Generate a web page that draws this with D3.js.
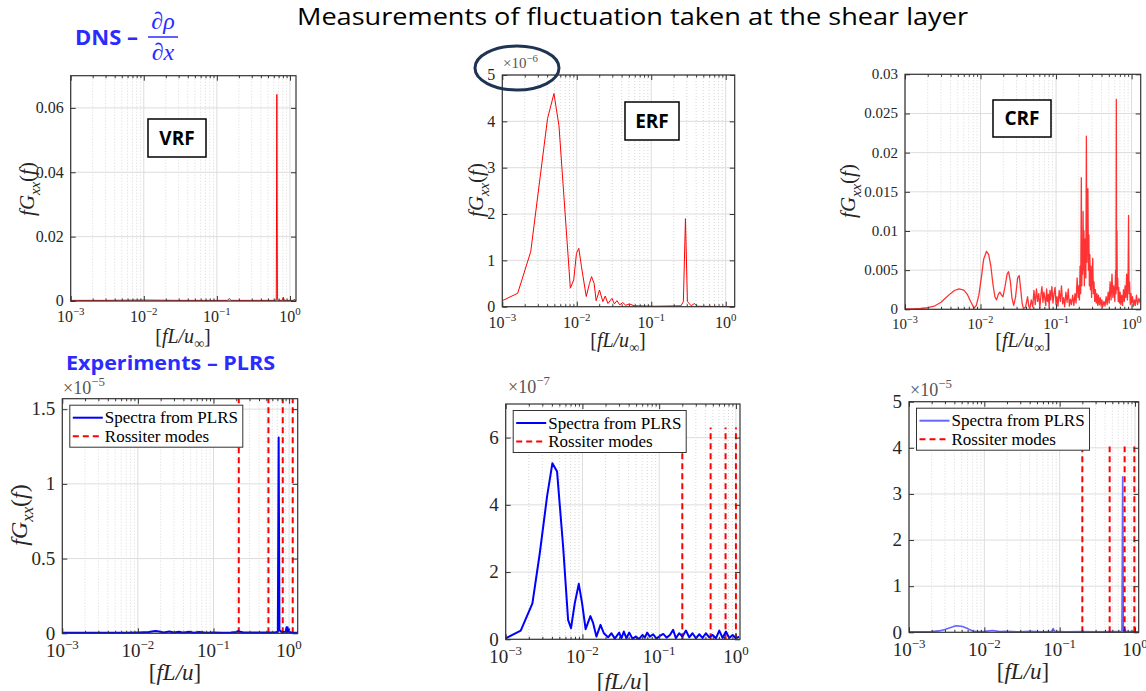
<!DOCTYPE html>
<html>
<head>
<meta charset="utf-8">
<script src="https://cdn.jsdelivr.net/npm/d3@7"></script>
<style>
  body { margin: 0; background: #fff; }
  svg { display: block; }
</style>
</head>
<body>
<svg id="chart" width="1146" height="691"></svg>
<script>
///////////////////////////////////////////////////////////////////////////////
//// Data /////////////////////////////////////////////////////////////////////
///////////////////////////////////////////////////////////////////////////////
// Log axis decades, shared by all six panels
const decadeTicks = [1e-3, 1e-2, 1e-1, 1];

// DNS spectra  [fL/u, fGxx]
const vrfSpectrum = [
  [0.001, 0.0002], [0.003, 0.0002], [0.01, 0.0003], [0.03, 0.0002], [0.1, 0.0002],
  [0.14, 0.0002], [0.148, 0.0008], [0.156, 0.0002], [0.3, 0.0002], [0.6, 0.0002],
  [0.65, 0.0003], [0.662, 0.0642], [0.674, 0.0004], [0.7, 0.0002], [0.78, 0.0002],
  [0.81, 0.0012], [0.84, 0.0002], [1.0, 0.0002], [1.12, 0.0002], [1.15, 0.0006],
  [1.18, 0.0002], [1.21, 0.0002]
];
const vrfYTicks = [0, 0.02, 0.04, 0.06];

// x 1e-6
const erfSpectrum = [
  [0.001, 0.13], [0.00161, 0.29], [0.00241, 1.19], [0.00405, 4.06], [0.00494, 4.6],
  [0.00577, 3.9], [0.0082, 0.4], [0.0091, 0.58], [0.0099, 1.15], [0.01065, 1.26],
  [0.01157, 0.86], [0.0134, 0.22], [0.0148, 0.5], [0.0158, 0.65], [0.0171, 0.5],
  [0.0182, 0.13], [0.0202, 0.36], [0.0224, 0.11], [0.0241, 0.23], [0.0262, 0.07],
  [0.0297, 0.18], [0.032, 0.06], [0.0347, 0.13], [0.0377, 0.04], [0.0414, 0.09],
  [0.0455, 0.03], [0.0509, 0.06], [0.0589, 0.02], [0.11, 0.01], [0.251, 0.02],
  [0.27, 0.11], [0.288, 1.9], [0.306, 0.11], [0.344, 0.02], [0.38, 0.07],
  [0.41, 0.01], [1.32, 0.0]
];
const erfYTicks = [0, 1, 2, 3, 4, 5];

const crfSpectrum = [
  [0.001, 0.00004], [0.0013, 0.00006], [0.0016, 0.0001], [0.002, 0.0002], [0.0025, 0.00045],
  [0.003, 0.0009], [0.0035, 0.0015], [0.004, 0.002], [0.0045, 0.0024], [0.0052, 0.0026],
  [0.006, 0.00245], [0.0067, 0.0019], [0.0074, 0.001], [0.0082, 0.00015], [0.0088, 0.0005],
  [0.0095, 0.0018], [0.0103, 0.0042], [0.011, 0.0064], [0.012, 0.0074], [0.0128, 0.007],
  [0.0137, 0.0055], [0.0146, 0.0032], [0.0155, 0.0016], [0.0163, 0.0012], [0.0172, 0.0019],
  [0.018, 0.0022], [0.019, 0.0018], [0.0198, 0.0016], [0.021, 0.0028], [0.0225, 0.0045],
  [0.0235, 0.0048], [0.0248, 0.0036], [0.026, 0.0015], [0.0275, 0.0005], [0.029, 0.0015],
  [0.031, 0.004], [0.0325, 0.0043], [0.034, 0.0026], [0.0355, 0.0008], [0.037, 0.0001],
  [0.0395, 0.0003], [0.042, 0.0016], [0.0435, 0.0004], [0.045, 0.0001],
  [0.047, 0.0012], [0.049, 0.0003], [0.051, 0.0024], [0.053, 0.0006], [0.055, 0.0026],
  [0.057, 0.001], [0.059, 0.002], [0.061, 0.0002], [0.063, 0.0018], [0.065, 0.0029],
  [0.067, 0.0009], [0.069, 0.0022], [0.071, 0.0014], [0.073, 0.0005], [0.075, 0.0026],
  [0.077, 0.001], [0.079, 0.0019], [0.081, 0.0003], [0.083, 0.0024], [0.085, 0.0012],
  [0.088, 0.0029], [0.091, 0.0008], [0.094, 0.002], [0.097, 0.0028], [0.1, 0.0006],
  [0.103, 0.0016], [0.106, 0.0004], [0.11, 0.0024], [0.114, 0.001], [0.118, 0.003],
  [0.122, 0.0007], [0.126, 0.0015], [0.13, 0.0003], [0.135, 0.0022], [0.14, 0.0009],
  [0.145, 0.0026], [0.15, 0.0004], [0.155, 0.0013], [0.16, 0.0006], [0.166, 0.0018],
  [0.172, 0.0005], [0.178, 0.002], [0.184, 0.0008], [0.19, 0.004], [0.196, 0.0015],
  [0.2, 0.003], [0.204, 0.0012], [0.208, 0.0055], [0.212, 0.002], [0.216, 0.0168],
  [0.219, 0.003], [0.222, 0.008], [0.225, 0.0045], [0.228, 0.0125], [0.231, 0.005],
  [0.234, 0.01], [0.237, 0.003], [0.24, 0.0075], [0.244, 0.009], [0.248, 0.004],
  [0.252, 0.0221], [0.256, 0.006], [0.26, 0.013], [0.264, 0.0154], [0.268, 0.005],
  [0.272, 0.0095], [0.276, 0.003], [0.28, 0.007], [0.285, 0.0025], [0.29, 0.0055],
  [0.295, 0.0015], [0.3, 0.004], [0.306, 0.0065], [0.312, 0.002], [0.318, 0.0035],
  [0.325, 0.001], [0.332, 0.0025], [0.34, 0.0008], [0.348, 0.002], [0.356, 0.0005],
  [0.365, 0.0018], [0.375, 0.0006], [0.385, 0.0015], [0.395, 0.0004], [0.405, 0.0012],
  [0.415, 0.0003], [0.43, 0.001], [0.445, 0.0004], [0.46, 0.0016], [0.475, 0.0006],
  [0.49, 0.0022], [0.505, 0.0008], [0.52, 0.0035], [0.535, 0.0012], [0.55, 0.0045],
  [0.565, 0.0015], [0.58, 0.003], [0.6, 0.001], [0.615, 0.005], [0.622, 0.002],
  [0.628, 0.0268], [0.634, 0.003], [0.64, 0.01], [0.647, 0.0025], [0.655, 0.004],
  [0.665, 0.001], [0.675, 0.0028], [0.69, 0.0008], [0.705, 0.0022], [0.72, 0.0006],
  [0.74, 0.0018], [0.76, 0.0005], [0.78, 0.0025], [0.8, 0.001], [0.82, 0.003],
  [0.84, 0.0015], [0.86, 0.0045], [0.88, 0.0012], [0.9, 0.005], [0.912, 0.012],
  [0.925, 0.002], [0.94, 0.0035], [0.96, 0.0006], [0.98, 0.002], [1.0, 0.0008],
  [1.03, 0.0016], [1.06, 0.0004], [1.09, 0.0012], [1.12, 0.0005], [1.16, 0.0018],
  [1.2, 0.0006], [1.25, 0.0014], [1.3, 0.0008]
];
const crfYTicks = [0, 0.005, 0.01, 0.015, 0.02, 0.025, 0.03];

// Experiment (PLRS) spectra
// x 1e-5
const expVrfSpectrum = [
  [0.001, 0.003], [0.002, 0.003], [0.004, 0.004], [0.007, 0.003], [0.01, 0.006],
  [0.014, 0.008], [0.017, 0.016], [0.019, 0.012], [0.022, 0.006], [0.026, 0.012],
  [0.03, 0.005], [0.035, 0.01], [0.04, 0.004], [0.047, 0.011], [0.055, 0.004],
  [0.065, 0.009], [0.08, 0.004], [0.1, 0.006], [0.13, 0.004], [0.17, 0.005],
  [0.2, 0.008], [0.21, 0.014], [0.25, 0.005], [0.35, 0.006], [0.5, 0.005],
  [0.65, 0.006], [0.71, 0.01], [0.728, 1.31], [0.745, 0.02], [0.8, 0.008],
  [0.9, 0.01], [0.925, 0.04], [0.94, 0.008], [0.955, 0.04], [0.98, 0.01],
  [1.1, 0.004], [1.3, 0.003]
];
const expVrfYTicks = [0, 0.5, 1, 1.5];
const expVrfModes = [0.216, 0.533, 0.825, 1.117];

// x 1e-7
const expErfSpectrum = [
  [0.001, 0.03], [0.00157, 0.26], [0.00223, 1.07], [0.00278, 2.56], [0.00346, 4.25],
  [0.00406, 5.24], [0.00467, 4.99], [0.0056, 2.76], [0.0065, 0.58], [0.0071, 0.33],
  [0.00794, 1.07], [0.00896, 1.65], [0.0099, 1.07], [0.011, 0.3], [0.0127, 0.69],
  [0.0138, 0.48], [0.0152, 0.08], [0.0172, 0.43], [0.019, 0.18], [0.0216, 0.06],
  [0.0239, 0.18], [0.0264, 0.02], [0.0301, 0.2], [0.0323, 0.03], [0.0346, 0.23],
  [0.0375, 0.03], [0.0406, 0.2], [0.0449, 0.02], [0.0496, 0.08], [0.0548, 0.01],
  [0.0607, 0.13], [0.065, 0.05], [0.0697, 0.2], [0.0755, 0.08], [0.0835, 0.15],
  [0.092, 0.02], [0.102, 0.1], [0.113, 0.16], [0.125, 0.05], [0.138, 0.13],
  [0.152, 0.28], [0.165, 0.03], [0.182, 0.18], [0.201, 0.08], [0.223, 0.26],
  [0.246, 0.06], [0.272, 0.18], [0.301, 0.03], [0.333, 0.15], [0.367, 0.04],
  [0.406, 0.18], [0.449, 0.06], [0.497, 0.13], [0.548, 0.03], [0.607, 0.26],
  [0.67, 0.04], [0.741, 0.23], [0.818, 0.04], [0.906, 0.13], [1.0, 0.03], [1.1, 0.08]
];
const expErfYTicks = [0, 2, 4, 6];
const expErfModes = [0.2, 0.468, 0.733, 1.0];

// x 1e-5
const expCrfSpectrum = [
  [0.001, 0.01], [0.0015, 0.01], [0.002, 0.015], [0.0025, 0.03], [0.003, 0.06],
  [0.0035, 0.1], [0.0042, 0.14], [0.005, 0.13], [0.006, 0.08], [0.007, 0.03],
  [0.008, 0.015], [0.01, 0.02], [0.013, 0.04], [0.016, 0.015], [0.02, 0.02],
  [0.03, 0.01], [0.04, 0.02], [0.06, 0.01], [0.078, 0.02], [0.082, 0.08],
  [0.086, 0.02], [0.12, 0.01], [0.2, 0.015], [0.3, 0.01], [0.5, 0.015],
  [0.67, 0.02], [0.686, 3.37], [0.7, 0.03], [0.72, 0.1], [0.75, 0.02],
  [1.0, 0.01], [1.12, 0.01]
];
const expCrfYTicks = [0, 1, 2, 3, 4, 5];
const expCrfModes = [0.2, 0.461, 0.729, 0.98];

const legendLabels = ["Spectra from PLRS", "Rossiter modes"];

///////////////////////////////////////////////////////////////////////////////
//// Set up ///////////////////////////////////////////////////////////////////
///////////////////////////////////////////////////////////////////////////////
const svg = d3.select("#chart");
const serif = "'Liberation Serif', 'DejaVu Serif', serif";
const sans = "'Open Sans', Lato, sans-serif";
const headBlue = "#2b2bff";
const axisColor = "#333";
const labelColor = "#262626";

const panels = [
  {data: vrfSpectrum, yTicks: vrfYTicks, xMax: 1.21, yMax: 0.07,
   box: [70.7, 75.7, 296, 301], stroke: "#ff0000", lw: 1, alpha: 1,
   font: 16, xLabel: [183, 343, true], yLabel: [27, 189], labelFont: 20, yLabelFont: 21,
   tag: {text: "VRF", x: 148, y: 119, w: 58, h: 38}},
  {data: erfSpectrum, yTicks: erfYTicks, xMax: 1.32, yMax: 5,
   box: [502.3, 75, 734.7, 306.7], stroke: "#ff0000", lw: 1, alpha: 1,
   font: 16, xLabel: [618, 347, true], yLabel: [476, 190], labelFont: 20, yLabelFont: 21,
   exponent: ["-6", 503, 68],
   tag: {text: "ERF", x: 625, y: 102, w: 54, h: 38}},
  {data: crfSpectrum, yTicks: crfYTicks, xMax: 1.32, yMax: 0.03,
   box: [905, 74.3, 1140.7, 309.3], stroke: "#ff0000", lw: 1.3, alpha: 0.8,
   font: 15, xLabel: [1023, 347, true], yLabel: [848, 191], labelFont: 20, yLabelFont: 21,
   tag: {text: "CRF", x: 993, y: 100, w: 58, h: 37}},
  {data: expVrfSpectrum, yTicks: expVrfYTicks, xMax: 1.3, yMax: 1.57,
   box: [62.3, 398.7, 297.7, 633.3], stroke: "#0000ff", lw: 2, alpha: 1,
   font: 19, xLabel: [175, 680, false], yLabel: [19, 515], labelFont: 23, yLabelFont: 24,
   exponent: ["-5", 63, 394], modes: expVrfModes, modeTop: 1.57},
  {data: expErfSpectrum, yTicks: expErfYTicks, xMax: 1.13, yMax: 7,
   box: [505.7, 404, 740, 639.3], stroke: "#0000ff", lw: 2, alpha: 1,
   font: 19, xLabel: [623, 689, false], labelFont: 23,
   exponent: ["-7", 508, 393], modes: expErfModes, modeTop: 6.3},
  {data: expCrfSpectrum, yTicks: expCrfYTicks, xMax: 1.12, yMax: 5,
   box: [909, 401.7, 1138.7, 632.3], stroke: "#0000ff", lw: 1.6, alpha: 0.6,
   font: 19, xLabel: [1023, 679, false], labelFont: 23,
   exponent: ["-5", 910, 396], modes: expCrfModes, modeTop: 4.03}
];

///////////////////////////////////////////////////////////////////////////////
//// Headings /////////////////////////////////////////////////////////////////
///////////////////////////////////////////////////////////////////////////////
svg.append("text")
    .attr("x", 632.5)
    .attr("y", 25)
    .attr("text-anchor", "middle")
    .attr("textLength", 671)
    .attr("lengthAdjust", "spacingAndGlyphs")
    .style("font-family", sans)
    .style("font-size", "24px")
    .attr("fill", "#000")
    .text("Measurements of fluctuation taken at the shear layer");

svg.append("text")
    .attr("x", 75)
    .attr("y", 45)
    .style("font-family", sans)
    .style("font-size", "22px")
    .style("font-weight", "bold")
    .attr("fill", headBlue)
    .text("DNS \u2013");

// d rho / d x
const frac = svg.append("g").attr("fill", headBlue)
    .style("font-family", serif).style("font-style", "italic").style("font-size", "24px");
frac.append("text").attr("x", 163).attr("y", 29).attr("text-anchor", "middle").text("\u2202\u03c1");
frac.append("line").attr("x1", 148).attr("x2", 178).attr("y1", 37).attr("y2", 37)
    .attr("stroke", headBlue).attr("stroke-width", 1.5);
frac.append("text").attr("x", 163).attr("y", 60).attr("text-anchor", "middle").text("\u2202x");

svg.append("text")
    .attr("x", 66)
    .attr("y", 370)
    .attr("textLength", 209)
    .attr("lengthAdjust", "spacingAndGlyphs")
    .style("font-family", sans)
    .style("font-size", "19px")
    .style("font-weight", "bold")
    .attr("fill", headBlue)
    .text("Experiments \u2013 PLRS");

///////////////////////////////////////////////////////////////////////////////
//// Panels ///////////////////////////////////////////////////////////////////
///////////////////////////////////////////////////////////////////////////////
panels.forEach(drawPanel);

// Circle round the x10^-6 note
svg.append("ellipse")
    .attr("cx", 517).attr("cy", 68).attr("rx", 42).attr("ry", 22)
    .attr("fill", "none").attr("stroke", "#1f3352").attr("stroke-width", 3);

function tickGroup(g, axis, transform) {
  g.append("g")
      .attr("transform", transform)
      .call(axis)
      .call(a => a.select(".domain").remove())
      .call(a => a.selectAll("line").attr("stroke", axisColor))
      .call(a => a.selectAll("text").remove());
}

function drawPanel(p) {
  const [x0, y0, x1, y1] = p.box;
  const w = x1 - x0, h = y1 - y0;
  const x = d3.scaleLog().domain([1e-3, p.xMax]).range([0, w]);
  const y = d3.scaleLinear().domain([0, p.yMax]).range([h, 0]);
  const g = svg.append("g").attr("transform", `translate(${x0},${y0})`);

  const minorTicks = x.ticks().filter(t => Math.abs(Math.log10(t) - Math.round(Math.log10(t))) > 1e-6);

  /////////////////////////////////////////////////////////////////////////////
  // Grid
  g.selectAll(".minor-grid")
    .data(minorTicks)
    .join("line")
      .attr("x1", d => x(d)).attr("x2", d => x(d))
      .attr("y1", 0).attr("y2", h)
      .attr("stroke", "#d8d8d8")
      .attr("stroke-dasharray", "1,2");

  g.selectAll(".major-grid")
    .data(decadeTicks)
    .join("line")
      .attr("x1", d => x(d)).attr("x2", d => x(d))
      .attr("y1", 0).attr("y2", h)
      .attr("stroke", "#dddddd");

  g.selectAll(".y-grid")
    .data(p.yTicks)
    .join("line")
      .attr("x1", 0).attr("x2", w)
      .attr("y1", d => y(d)).attr("y2", d => y(d))
      .attr("stroke", "#dddddd");

  /////////////////////////////////////////////////////////////////////////////
  // Rossiter modes
  if (p.modes) {
    g.selectAll(".mode")
      .data(p.modes)
      .join("line")
        .attr("x1", d => x(d)).attr("x2", d => x(d))
        .attr("y1", y(0)).attr("y2", y(p.modeTop))
        .attr("stroke", "#ff0000")
        .attr("stroke-width", 2)
        .attr("stroke-dasharray", "6,4");
  }

  /////////////////////////////////////////////////////////////////////////////
  // Spectrum
  g.append("path")
      .datum(p.data)
      .attr("fill", "none")
      .attr("stroke", p.stroke)
      .attr("stroke-width", p.lw)
      .attr("stroke-opacity", p.alpha)
      .attr("stroke-linejoin", "round")
      .attr("d", d3.line().x(d => x(d[0])).y(d => y(d[1])));

  /////////////////////////////////////////////////////////////////////////////
  // Ticks (inward, all four sides)
  tickGroup(g, d3.axisBottom(x).tickValues(decadeTicks).tickSize(-5), `translate(0,${h})`);
  tickGroup(g, d3.axisBottom(x).tickValues(minorTicks).tickSize(-2.5), `translate(0,${h})`);
  tickGroup(g, d3.axisTop(x).tickValues(decadeTicks).tickSize(-5), "translate(0,0)");
  tickGroup(g, d3.axisTop(x).tickValues(minorTicks).tickSize(-2.5), "translate(0,0)");
  tickGroup(g, d3.axisLeft(y).tickValues(p.yTicks).tickSize(-5), "translate(0,0)");
  tickGroup(g, d3.axisRight(y).tickValues(p.yTicks).tickSize(-5), `translate(${w},0)`);

  g.append("rect")
      .attr("width", w).attr("height", h)
      .attr("fill", "none")
      .attr("stroke", axisColor)
      .attr("stroke-width", 1.2);

  /////////////////////////////////////////////////////////////////////////////
  // Tick labels
  const xl = g.selectAll(".x-label")
    .data(decadeTicks)
    .join("text")
      .attr("x", d => x(d))
      .attr("y", h + 5 + p.font)
      .attr("text-anchor", "middle")
      .attr("fill", labelColor)
      .style("font-family", serif)
      .style("font-size", p.font + "px");
  xl.append("tspan").text("10");
  xl.append("tspan")
      .attr("dy", -p.font * 0.42)
      .style("font-size", (p.font * 0.68) + "px")
      .text(d => Math.round(Math.log10(d)) === 0 ? "0" : "\u2212" + (-Math.round(Math.log10(d))));

  g.selectAll(".y-label")
    .data(p.yTicks)
    .join("text")
      .attr("x", -7)
      .attr("y", d => y(d))
      .attr("dy", "0.33em")
      .attr("text-anchor", "end")
      .attr("fill", labelColor)
      .style("font-family", serif)
      .style("font-size", p.font + "px")
      .text(d => String(d));

  if (p.exponent) {
    const ex = svg.append("text")
        .attr("x", p.exponent[1]).attr("y", p.exponent[2])
        .attr("fill", "#555")
        .style("font-family", serif)
        .style("font-size", (p.font - 1) + "px");
    ex.append("tspan").text("\u00d710");
    ex.append("tspan").attr("dy", -p.font * 0.4)
        .style("font-size", (p.font * 0.68) + "px")
        .text(p.exponent[0].replace("-", "\u2212"));
  }

  /////////////////////////////////////////////////////////////////////////////
  // Axis titles
  const xt = svg.append("text")
      .attr("x", p.xLabel[0]).attr("y", p.xLabel[1])
      .attr("text-anchor", "middle")
      .attr("fill", labelColor)
      .style("font-family", serif)
      .style("font-size", p.labelFont + "px");
  xt.append("tspan").text("[");
  xt.append("tspan").style("font-style", "italic").text("fL/u");
  if (p.xLabel[2]) {
    xt.append("tspan").attr("dy", p.labelFont * 0.25).style("font-size", (p.labelFont * 0.7) + "px").text("\u221e");
    xt.append("tspan").attr("dy", -p.labelFont * 0.25).text("]");
  } else {
    xt.append("tspan").text("]");
  }

  if (p.yLabel) {
    const yt = svg.append("text")
        .attr("transform", `translate(${p.yLabel[0]},${p.yLabel[1]}) rotate(-90)`)
        .attr("text-anchor", "middle")
        .attr("dy", "0.35em")
        .attr("fill", labelColor)
        .style("font-family", serif)
        .style("font-size", p.yLabelFont + "px");
    yt.append("tspan").style("font-style", "italic").text("fG");
    yt.append("tspan").attr("dy", p.yLabelFont * 0.25).style("font-style", "italic")
        .style("font-size", (p.yLabelFont * 0.7) + "px").text("xx");
    yt.append("tspan").attr("dy", -p.yLabelFont * 0.25).text("(");
    yt.append("tspan").style("font-style", "italic").text("f");
    yt.append("tspan").text(")");
  }

  /////////////////////////////////////////////////////////////////////////////
  // Case tag
  if (p.tag) {
    svg.append("rect")
        .attr("x", p.tag.x).attr("y", p.tag.y)
        .attr("width", p.tag.w).attr("height", p.tag.h)
        .attr("fill", "#fff").attr("stroke", "#000").attr("stroke-width", 1.5);
    svg.append("text")
        .attr("x", p.tag.x + p.tag.w / 2).attr("y", p.tag.y + p.tag.h / 2)
        .attr("dy", "0.36em")
        .attr("text-anchor", "middle")
        .style("font-family", sans)
        .style("font-size", "19px")
        .style("font-weight", "bold")
        .text(p.tag.text);
  }

  /////////////////////////////////////////////////////////////////////////////
  // Legend
  if (p.modes) {
    const lg = g.append("g").attr("transform", "translate(7.5,6.5)");
    lg.append("rect")
        .attr("width", 173).attr("height", 42)
        .attr("fill", "#fff").attr("stroke", axisColor).attr("stroke-width", 1);
    const rows = lg.selectAll(".row")
      .data(legendLabels)
      .join("g")
        .attr("transform", (d, i) => `translate(0,${12.5 + i * 18.5})`);
    rows.append("line")
        .attr("x1", 3).attr("x2", 33)
        .attr("stroke", (d, i) => i === 0 ? p.stroke : "#ff0000")
        .attr("stroke-opacity", (d, i) => i === 0 ? p.alpha : 1)
        .attr("stroke-width", 2)
        .attr("stroke-dasharray", (d, i) => i === 0 ? null : "6,4");
    rows.append("text")
        .attr("x", 35)
        .attr("dy", "0.33em")
        .attr("fill", "#000")
        .style("font-family", serif)
        .style("font-size", "17px")
        .text(d => d);
  }
}
</script>
</body>
</html>
